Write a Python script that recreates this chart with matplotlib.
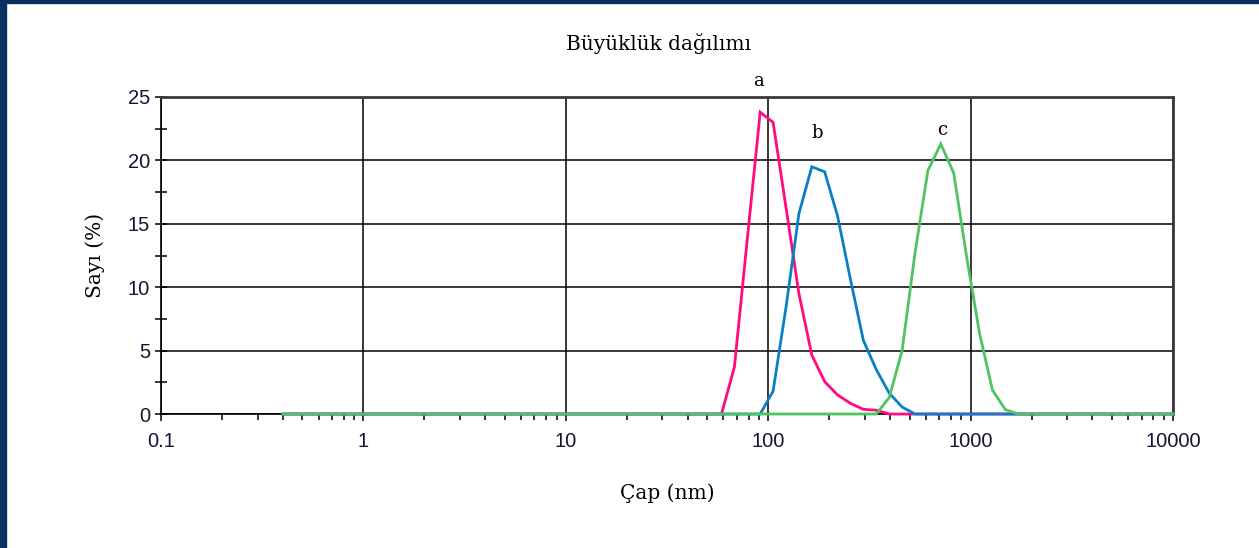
import matplotlib.pyplot as plt
from matplotlib.patches import Rectangle
from matplotlib.ticker import LogLocator, FixedLocator

# Size bins (nm), 70 log-spaced classes
sizes = [0.4000, 0.4632, 0.5365, 0.6213, 0.7195, 0.8332, 0.9649, 1.117, 1.294, 1.499,
         1.736, 2.010, 2.328, 2.696, 3.122, 3.615, 4.187, 4.849, 5.615, 6.503,
         7.531, 8.721, 10.10, 11.70, 13.54, 15.69, 18.17, 21.04, 24.36, 28.21,
         32.67, 37.84, 43.82, 50.75, 58.77, 68.06, 78.82, 91.28, 105.7, 122.4,
         141.8, 164.2, 190.1, 220.2, 255.0, 295.3, 342.0, 396.1, 458.7, 531.2,
         615.1, 712.4, 825.0, 955.4, 1106, 1281, 1484, 1718, 1990, 2305,
         2669, 3091, 3580, 4145, 4801, 5560, 6439, 7456, 8635, 10000]

# Number distribution (%) for each sample
sample_a = [0] * 34 + [0.0, 3.7, 13.8, 23.8, 23.0, 16.3, 9.5, 4.65, 2.55, 1.5,
                       0.84, 0.37, 0.3, 0.0] + [0] * 22
sample_b = [0] * 37 + [0.0, 1.8, 8.4, 15.8, 19.5, 19.1, 15.6, 10.6, 5.8, 3.5,
                       1.65, 0.55, 0.0] + [0] * 20
sample_c = [0] * 46 + [0.0, 1.3, 5.0, 12.7, 19.2, 21.3, 19.0, 12.4, 6.4, 1.9,
                       0.35, 0.0] + [0] * 12

labels = ["a", "b", "c"]
label_pos = [(90, 26.3), (174, 22.2), (722, 22.4)]
colors = ["#ff0a80", "#0a80c4", "#4cc462"]

fig = plt.figure(figsize=(12.59, 5.48), dpi=100)
ax = fig.add_axes([0.1279, 0.2445, 0.8038, 0.5785])

for vals, col in zip([sample_a, sample_b, sample_c], colors):
    ax.plot(sizes, vals, color=col, linewidth=2.0, solid_joinstyle="miter",
            clip_on=False, zorder=3)

for lab, (xp, yp) in zip(labels, label_pos):
    ax.text(xp, yp, lab, ha="center", va="center", fontsize=13,
            family="DejaVu Serif", clip_on=False)

ax.set_xscale("log")
ax.set_xlim(0.1, 10000)
ax.set_ylim(0, 25)
ax.set_xticks([0.1, 1, 10, 100, 1000, 10000])
ax.set_xticklabels(["0.1", "1", "10", "100", "1000", "10000"])
ax.xaxis.set_minor_locator(LogLocator(base=10, subs=range(2, 10), numticks=20))
ax.xaxis.set_minor_formatter(plt.NullFormatter())
ax.set_yticks([0, 5, 10, 15, 20, 25])
ax.yaxis.set_minor_locator(FixedLocator([2.5, 7.5, 12.5, 17.5, 22.5]))

ax.grid(True, which="major", color="black", linewidth=1.1)
ax.set_axisbelow(True)

ax.tick_params(axis="x", which="major", direction="out", length=5, width=1.1,
               pad=8, labelsize=14.5, labelcolor="#14143a", labelfontfamily="Liberation Sans")
ax.tick_params(axis="x", which="minor", direction="out", length=4, width=1.1)
ax.tick_params(axis="y", which="major", direction="inout", length=8, width=1.1,
               pad=4, labelsize=14.5, labelcolor="#14143a", labelfontfamily="Liberation Sans")
ax.tick_params(axis="y", which="minor", direction="inout", length=8, width=1.1)

for side in ["left", "bottom"]:
    ax.spines[side].set_color("black")
    ax.spines[side].set_linewidth(1.2)
for side in ["top", "right"]:
    ax.spines[side].set_color("#3a3a3a")
    ax.spines[side].set_linewidth(2.0)

fig.text(0.523, 0.92, "Büyüklük dağılımı", ha="center", va="center",
         fontsize=14.5, family="DejaVu Serif")
fig.text(0.53, 0.1004, "Çap (nm)", ha="center", va="center",
         fontsize=14.5, family="DejaVu Serif")
fig.text(0.0755, 0.5347, "Sayı (%)", ha="center", va="center", rotation=90,
         fontsize=14.5, family="DejaVu Serif")

# dark blue window frame on the left and top
fig.add_artist(Rectangle((0, 0), 6 / 1259, 1, transform=fig.transFigure,
                         color="#0b2f5e", zorder=10))
fig.add_artist(Rectangle((0, 1 - 3 / 548), 1, 3 / 548, transform=fig.transFigure,
                         color="#0b2f5e", zorder=10))

fig.savefig("out.png", dpi=100)
